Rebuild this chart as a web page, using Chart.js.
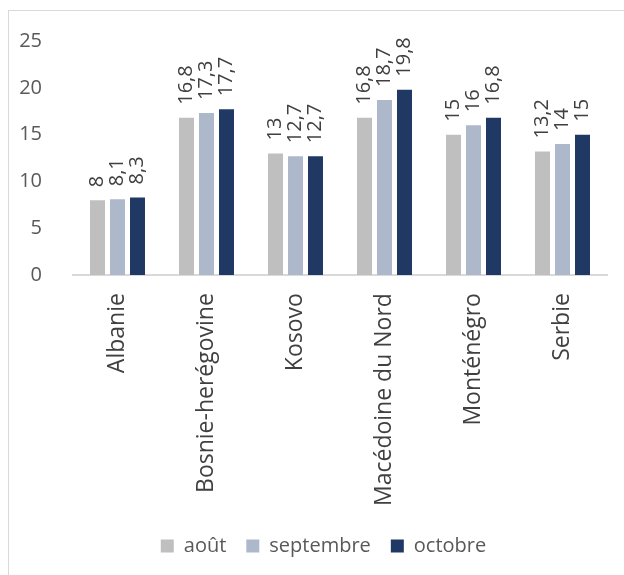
<!DOCTYPE html>
<html lang="fr">
<head>
  <meta charset="UTF-8">
  <title>Graphique</title>
  <script src="https://cdn.jsdelivr.net/npm/chart.js"></script>
  <style>
    body { margin: 0; background: #fff; }
    .frame { position: absolute; left: 8px; top: 10px; width: 800px; height: 800px; border: 1px solid #d9d9d9; }
    .wrap { position: absolute; left: 0; top: 0; width: 624px; height: 575px; }
  </style>
</head>
<body>
<div class="frame"></div>
<div class="wrap"><canvas id="chart"></canvas></div>
<script>
  // Data
  const categories = ['Albanie', 'Bosnie-herégovine', 'Kosovo', 'Macédoine du Nord', 'Monténégro', 'Serbie'];
  const aout = [8, 16.8, 13, 16.8, 15, 13.2];
  const septembre = [8.1, 17.3, 12.7, 18.7, 16, 14];
  const octobre = [8.3, 17.7, 12.7, 19.8, 16.8, 15];
  const seriesNames = ['août', 'septembre', 'octobre'];
  const seriesColors = ['#bfbfbf', '#adb9ca', '#203864'];

  const FONT = '"Open Sans", sans-serif';

  // rotated value labels above each bar
  const valueLabels = {
    id: 'valueLabels',
    afterLayout(chart) {
      // legend sits a bit right of the plot centre in the original
      chart.legend.left += 20;
      chart.legend.right += 20;
    },
    afterDatasetsDraw(chart) {
      const ctx = chart.ctx;
      ctx.save();
      ctx.fillStyle = '#404040';
      ctx.font = '20px ' + FONT;
      ctx.textAlign = 'left';
      ctx.textBaseline = 'middle';
      chart.data.datasets.forEach((ds, i) => {
        chart.getDatasetMeta(i).data.forEach((bar, j) => {
          ctx.save();
          ctx.translate(bar.x, bar.y - 13);
          ctx.rotate(-Math.PI / 2);
          ctx.fillText(String(ds.data[j]).replace('.', ','), 0, 0);
          ctx.restore();
        });
      });
      ctx.restore();
    }
  };

  new Chart(document.getElementById('chart'), {
    type: 'bar',
    data: {
      labels: categories,
      datasets: [aout, septembre, octobre].map((d, i) => ({
        label: seriesNames[i],
        data: d,
        backgroundColor: seriesColors[i],
        categoryPercentage: 0.674,
        barPercentage: 0.75
      }))
    },
    options: {
      responsive: true,
      maintainAspectRatio: false,
      animation: false,
      layout: { padding: { left: 0, right: 17, top: 41, bottom: 9 } },
      plugins: {
        tooltip: { enabled: false },
        legend: {
          position: 'bottom',
          labels: {
            color: '#595959',
            font: { family: FONT, size: 20 },
            boxWidth: 13,
            boxHeight: 13,
            padding: 20
          }
        }
      },
      scales: {
        x: {
          grid: { display: false },
          border: { color: '#d9d9d9', width: 2 },
          ticks: {
            color: '#404040',
            font: { family: FONT, size: 23 },
            minRotation: 90,
            maxRotation: 90,
            padding: 10
          }
        },
        y: {
          min: 0,
          max: 25,
          grid: { display: false },
          border: { display: false },
          afterFit(scale) { scale.width = 73; },
          ticks: {
            stepSize: 5,
            color: '#595959',
            font: { family: FONT, size: 20 },
            padding: 23
          }
        }
      }
    },
    plugins: [valueLabels]
  });
</script>
</body>
</html>
